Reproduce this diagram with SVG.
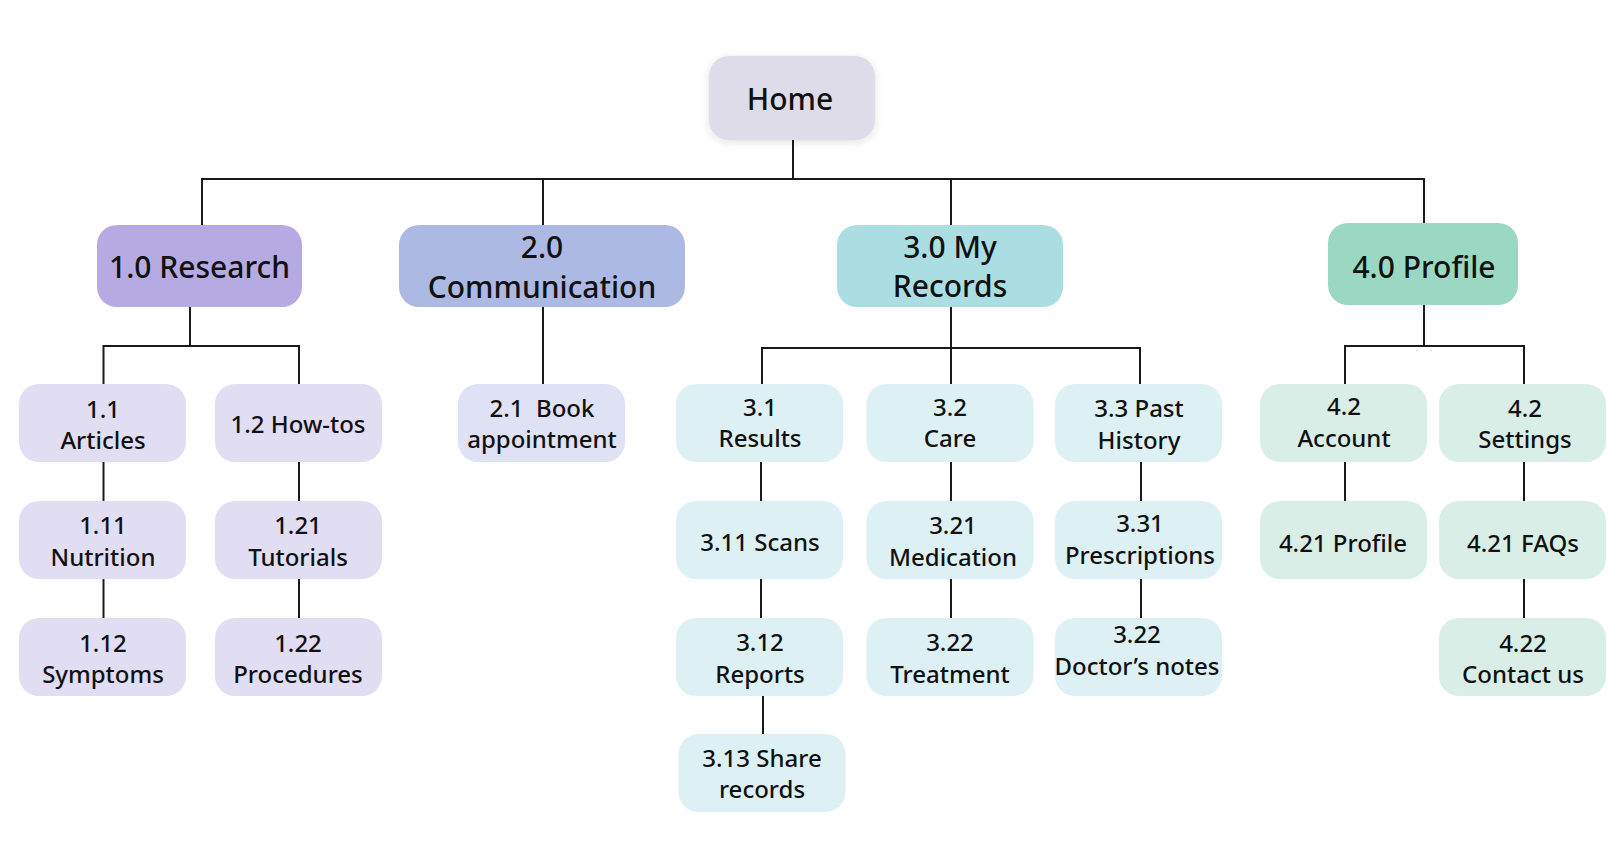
<svg xmlns="http://www.w3.org/2000/svg" width="1622" height="844" viewBox="0 0 1622 844">
<defs>
<filter id="shadow" x="-20%" y="-20%" width="140%" height="150%">
<feDropShadow dx="0" dy="2" stdDeviation="4" flood-color="#000" flood-opacity="0.12"/>
</filter>
<style>
text{font-family:"Noto Sans","Open Sans","DejaVu Sans",sans-serif;fill:#111;text-anchor:middle;font-weight:500}
.big{font-size:30px}
.sm{font-size:24px}
.home{fill:#DEDCE8}
.r0{fill:#B5AAE2}
.c0{fill:#ABB9E3}
.m0{fill:#AADEE3}
.p0{fill:#9AD8C3}
.r1{fill:#E1DDF3}
.c1{fill:#DEE2F4}
.m1{fill:#DDF1F4}
.p1{fill:#D9EEE6}
.con path{fill:none;stroke:#1a1a1a;stroke-width:2}
</style>
</defs>
<rect width="1622" height="844" fill="#fff"/>
<g class="con" id="connectors">
<path d="M793 140 V179"/>
<path d="M202 225 V179 H1424 V223"/>
<path d="M543 179 V225"/>
<path d="M951 179 V225"/>
<path d="M190 307 V346"/>
<path d="M103.5 384 V346 H299 V384"/>
<path d="M103.5 462 V501"/>
<path d="M103.5 579 V618"/>
<path d="M299 462 V501"/>
<path d="M299 579 V618"/>
<path d="M543 307 V384"/>
<path d="M951 307 V384"/>
<path d="M762 384 V348 H1140 V384"/>
<path d="M761 462 V501"/>
<path d="M761 579 V618"/>
<path d="M763 696 V734"/>
<path d="M951 462 V501"/>
<path d="M951 579 V618"/>
<path d="M1141 462 V501"/>
<path d="M1141 579 V618"/>
<path d="M1424 305 V346"/>
<path d="M1345 384 V346 H1524 V384"/>
<path d="M1345 462 V501"/>
<path d="M1524 462 V501"/>
<path d="M1524 579 V618"/>
</g>
<g id="home"><rect class="home" x="709" y="56" width="166" height="84" rx="20" filter="url(#shadow)"/><text class="big" x="790" y="110">Home</text></g>
<g id="research"><rect class="r0" x="97" y="225" width="205" height="82" rx="20"/><text class="big" x="199.5" y="278">1.0 Research</text></g>
<g id="communication"><rect class="c0" x="399" y="225" width="286" height="82" rx="20"/><text class="big" x="542" y="258">2.0</text><text class="big" x="542" y="298">Communication</text></g>
<g id="records"><rect class="m0" x="837" y="225" width="226" height="82" rx="20"/><text class="big" x="950" y="258">3.0 My</text><text class="big" x="950" y="297">Records</text></g>
<g id="profile"><rect class="p0" x="1328" y="223" width="190" height="82" rx="20"/><text class="big" x="1424" y="278">4.0 Profile</text></g>

<g id="n1-1"><rect class="r1" x="19" y="384" width="167" height="78" rx="20"/><text class="sm" x="103" y="418">1.1</text><text class="sm" x="103" y="449">Articles</text></g>
<g id="n1-2"><rect class="r1" x="215" y="384" width="167" height="78" rx="20"/><text class="sm" x="298" y="433">1.2 How-tos</text></g>
<g id="n1-11"><rect class="r1" x="19" y="501" width="167" height="78" rx="20"/><text class="sm" x="103" y="534">1.11</text><text class="sm" x="103" y="566">Nutrition</text></g>
<g id="n1-21"><rect class="r1" x="215" y="501" width="167" height="78" rx="20"/><text class="sm" x="298" y="534">1.21</text><text class="sm" x="298" y="566">Tutorials</text></g>
<g id="n1-12"><rect class="r1" x="19" y="618" width="167" height="78" rx="20"/><text class="sm" x="103" y="651.5">1.12</text><text class="sm" x="103" y="683">Symptoms</text></g>
<g id="n1-22"><rect class="r1" x="215" y="618" width="167" height="78" rx="20"/><text class="sm" x="298" y="651.5">1.22</text><text class="sm" x="298" y="683">Procedures</text></g>

<g id="n2-1"><rect class="c1" x="458" y="384" width="167" height="78" rx="20"/><text class="sm" x="542" y="417" xml:space="preserve">2.1  Book</text><text class="sm" x="542" y="448">appointment</text></g>

<g id="n3-1"><rect class="m1" x="676" y="384" width="167" height="78" rx="20"/><text class="sm" x="760" y="416">3.1</text><text class="sm" x="760" y="447">Results</text></g>
<g id="n3-2"><rect class="m1" x="866.5" y="384" width="167" height="78" rx="20"/><text class="sm" x="950" y="416">3.2</text><text class="sm" x="950" y="447">Care</text></g>
<g id="n3-3"><rect class="m1" x="1055" y="384" width="167" height="78" rx="20"/><text class="sm" x="1139" y="417">3.3 Past</text><text class="sm" x="1139" y="449">History</text></g>
<g id="n3-11"><rect class="m1" x="676" y="501" width="167" height="78" rx="20"/><text class="sm" x="760" y="551">3.11 Scans</text></g>
<g id="n3-21"><rect class="m1" x="866.5" y="501" width="167" height="78" rx="20"/><text class="sm" x="953" y="534">3.21</text><text class="sm" x="953" y="566">Medication</text></g>
<g id="n3-31"><rect class="m1" x="1055" y="501" width="167" height="78" rx="20"/><text class="sm" x="1140" y="532">3.31</text><text class="sm" x="1140" y="564">Prescriptions</text></g>
<g id="n3-12"><rect class="m1" x="676" y="618" width="167" height="78" rx="20"/><text class="sm" x="760" y="651">3.12</text><text class="sm" x="760" y="683">Reports</text></g>
<g id="n3-22"><rect class="m1" x="866.5" y="618" width="167" height="78" rx="20"/><text class="sm" x="950" y="651">3.22</text><text class="sm" x="950" y="683">Treatment</text></g>
<g id="n3-32"><rect class="m1" x="1055" y="618" width="167" height="78" rx="20"/><text class="sm" x="1137" y="643">3.22</text><text class="sm" x="1137" y="675">Doctor’s notes</text></g>
<g id="n3-13"><rect class="m1" x="678.5" y="734" width="167" height="78" rx="20"/><text class="sm" x="762" y="767">3.13 Share</text><text class="sm" x="762" y="798">records</text></g>

<g id="n4-2a"><rect class="p1" x="1260" y="384" width="167" height="78" rx="20"/><text class="sm" x="1344" y="415">4.2</text><text class="sm" x="1344" y="447">Account</text></g>
<g id="n4-2s"><rect class="p1" x="1439" y="384" width="167" height="78" rx="20"/><text class="sm" x="1525" y="417">4.2</text><text class="sm" x="1525" y="448">Settings</text></g>
<g id="n4-21p"><rect class="p1" x="1260" y="501" width="167" height="78" rx="20"/><text class="sm" x="1343" y="552">4.21 Profile</text></g>
<g id="n4-21f"><rect class="p1" x="1439" y="501" width="167" height="78" rx="20"/><text class="sm" x="1523" y="552">4.21 FAQs</text></g>
<g id="n4-22"><rect class="p1" x="1439" y="618" width="167" height="78" rx="20"/><text class="sm" x="1523" y="652">4.22</text><text class="sm" x="1523" y="683">Contact us</text></g>
</svg>
